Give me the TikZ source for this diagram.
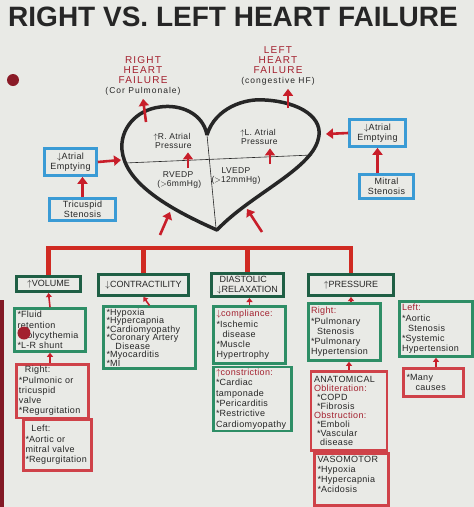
\documentclass[tikz,border=0pt]{standalone}
\usepackage{fontspec}
\setmainfont{Liberation Sans}
\usetikzlibrary{arrows.meta}
\definecolor{paper}{HTML}{E9EAE6}
\definecolor{ink}{HTML}{262626}
\definecolor{hred}{HTML}{C81E2A}
\definecolor{tred}{HTML}{D02A22}
\definecolor{wred}{HTML}{A3202E}
\definecolor{dgreen}{HTML}{1F5F45}
\definecolor{lgreen}{HTML}{2E8E66}
\definecolor{rbox}{HTML}{CF4249}
\definecolor{mblue}{HTML}{3A9BD5}
\newcommand{\bul}{\mbox{*}}
\begin{document}
\begin{tikzpicture}
        [x=1pt,y=-1pt,
        every node/.style={font=\fontsize{9}{10.3}\selectfont\addfontfeatures{LetterSpace=4}, text=ink},
        heading/.style={text=wred, align=center, font=\fontsize{10}{10}\selectfont\addfontfeatures{LetterSpace=12}},
        inheart/.style={align=center, font=\fontsize{8.5}{9.5}\selectfont\addfontfeatures{LetterSpace=4}},
        bluebox/.style={draw=mblue, line width=2.6pt, align=center, inner sep=1pt, font=\fontsize{9}{10}\selectfont\addfontfeatures{LetterSpace=4}},
        catbox/.style={draw=dgreen, line width=3pt, align=left, inner sep=1pt, font=\fontsize{9}{9.5}\selectfont},
        grnbox/.style={draw=lgreen, line width=2.6pt, align=left, inner sep=2pt},
        redbox/.style={draw=rbox, line width=2.6pt, align=left, inner sep=2pt},
        harrow/.style={draw=hred, line width=2.6pt, -{Triangle[width=10pt,length=7pt]}},
        boxarrow/.style={draw=hred, line width=1.6pt, -{Triangle[width=6pt,length=4pt]}},
        tree/.style={draw=tred, line width=4.5pt}]
        \fill[paper] (0,0) rectangle (474,507);
        \useasboundingbox (0,0) rectangle (474,507);
        \fill[wred!80!black] (0,300) rectangle (4,507);
        \fill[wred!85!black] (13,80) circle (6);
        % title
        \node[font=\fontsize{28}{30}\selectfont\bfseries] (title) at (233,17) {RIGHT VS. LEFT HEART FAILURE};
        % heart
        \draw[ink, line width=3.5pt, line join=round]
        (207,135) .. controls (203,113) and (180,104) .. (160,107)
        .. controls (135,110) and (120,130) .. (122,150)
        .. controls (125,180) and (160,205) .. (217,230)
        .. controls (250,195) and (310,170) .. (318,140)
        .. controls (325,118) and (300,102) .. (265,100)
        .. controls (245,98) and (215,108) .. (207,135);
        \draw[ink, line width=0.6pt] (125,163) -- (312,155);
        \draw[ink, line width=0.6pt] (207,135) -- (216,228);
        \node[inheart] (rAP) at (172,141) {$\uparrow$R. Atrial\\ \ Pressure};
        \node[inheart] (lAP) at (258,137) {$\uparrow$L. Atrial\\ \ Pressure};
        \node[inheart] (rvedp) at (178,180) {RVEDP\\ \ ($>$6mmHg)};
        \node[inheart] (lvedp) at (236,176) {LVEDP\\ ($>$12mmHg)};
        \coordinate (rvUp) at (188,168);
        \coordinate (lvUp) at (270,164);
        \draw[harrow] (rvUp) -- (rvUp |- rAP.south);
        \draw[harrow] (lvUp) -- (lvUp |- lAP.south);
        % failures
        \node[heading] (rhf) at (143,76) {RIGHT\\HEART\\FAILURE\\{\color{ink}\fontsize{8.5}{9}\selectfont(Cor Pulmonale)}};
        \node[heading] (lhf) at (278,66) {LEFT\\HEART\\FAILURE\\{\color{ink}\fontsize{8.5}{9}\selectfont(congestive HF)}};
        \coordinate (hRtop) at (146,122);
        \coordinate (hLtop) at (288,108);
        \draw[harrow] (hRtop) -- (rhf.south);
        \draw[harrow] (hLtop) -- (hLtop |- lhf.south);
        % atria
        \node[bluebox, minimum width=52pt, minimum height=27pt] (aeL) at (70.5,162) {$\downarrow$Atrial\\Emptying};
        \node[bluebox, minimum width=66pt, minimum height=22pt] (tricus) at (82.5,209.5) {Tricuspid\\Stenosis};
        \node[bluebox, minimum width=56pt, minimum height=27pt] (aeR) at (377.5,133) {$\downarrow$Atrial\\Emptying};
        \node[bluebox, minimum width=54pt, minimum height=24pt] (mitral) at (386.5,186.5) {Mitral\\Stenosis};
        \coordinate (hLeft) at (121,160);
        \coordinate (hRight) at (326,134);
        \draw[harrow] (aeL.east) -- (hLeft);
        \draw[harrow] (aeR.west) -- (hRight);
        \draw[harrow] (tricus.north) -- (tricus.north |- aeL.south);
        \draw[harrow] (mitral.north -| aeR.south) -- (aeR.south);
        % causes
        \node[catbox, minimum width=64pt, minimum height=15pt] (vol) at (48.5,284) {$\uparrow$VOLUME};
        \node[catbox, minimum width=90pt, minimum height=21pt] (contr) at (143.5,285) {$\downarrow$CONTRACTILITY};
        \node[catbox, minimum width=72pt, minimum height=23pt] (diast) at (247.5,285) {\ DIASTOLIC\\$\downarrow$RELAXATION};
        \node[catbox, minimum width=85pt, minimum height=21pt] (press) at (351,285) {$\uparrow$PRESSURE};
        \coordinate (bar) at (0,248);
        \draw[tree] (vol.north) |- (bar -| press.north) -- (press.north);
        \draw[tree] (contr.north) -- (contr.north |- bar);
        \draw[tree] (diast.north) -- (diast.north |- bar);
        \coordinate (hBotL) at (160,235);
        \coordinate (hBotR) at (262,232);
        \draw[harrow] (hBotL) -- (170,212);
        \draw[harrow] (hBotR) -- (247,209);
        % lists
        \node[grnbox, minimum width=71pt, minimum height=43pt, text width=65pt] (volList) at (50,330)
        {\bul Fluid\\ retention\\ \bul Polycythemia\\ \bul L-R shunt};
        \fill[wred] (24,333) circle (6.5);
        \node[grnbox, minimum width=92pt, minimum height=58pt, text width=86pt,
        font=\fontsize{9}{8.5}\selectfont\addfontfeatures{LetterSpace=4}] (contrList) at (149.5,337.5)
        {\bul Hypoxia\\ \bul Hypercapnia\\ \bul Cardiomyopathy\\ \bul Coronary Artery\\ \ \ \ Disease\\ \bul Myocarditis\\ \bul MI};
        \node[grnbox, minimum width=72pt, minimum height=57pt, text width=66pt] (compl) at (249.5,335)
        {{\color{wred}$\downarrow$compliance:}\\ \bul Ischemic\\ \ \ disease\\ \bul Muscle\\ Hypertrophy};
        \node[grnbox, minimum width=78pt, minimum height=59pt, text width=73pt] (constr) at (252.5,399)
        {{\color{wred}$\uparrow$constriction:}\\ \bul Cardiac\\ tamponade\\ \bul Pericarditis\\ \bul Restrictive\\ Cardiomyopathy};
        \node[grnbox, minimum width=72pt, minimum height=57pt, text width=67pt] (pRight) at (344.5,332)
        {{\color{wred}Right:}\\ \bul Pulmonary\\ \ \ Stenosis\\ \bul Pulmonary\\ Hypertension};
        \node[grnbox, minimum width=73pt, minimum height=55pt, text width=68pt] (pLeft) at (436,329)
        {{\color{wred}Left:}\\ \bul Aortic\\ \ \ Stenosis\\ \bul Systemic\\ Hypertension};
        \node[redbox, minimum width=72pt, minimum height=49pt, text width=67pt] (volR) at (52.5,391)
        {\ \ Right:\\ \bul Pulmonic or\\ tricuspid\\ valve\\ \bul Regurgitation};
        \node[redbox, minimum width=68pt, minimum height=51pt, text width=64pt] (volL) at (57.5,445)
        {\ \ Left:\\ \bul Aortic or\\ mitral valve\\ \bul Regurgitation};
        \node[redbox, minimum width=75pt, minimum height=79pt, text width=70pt, inner sep=3pt,
        font=\fontsize{9}{9}\selectfont\addfontfeatures{LetterSpace=4}] (anat) at (349,411)
        {ANATOMICAL\\ {\color{wred}Obliteration:}\\ \ \bul COPD\\ \ \bul Fibrosis\\ {\color{wred}Obstruction:}\\ \ \bul Emboli\\ \ \bul Vascular\\ \ \ disease};
        \node[redbox, minimum width=74pt, minimum height=52pt, text width=68pt] (vaso) at (351.5,479.5)
        {VASOMOTOR\\ \bul Hypoxia\\ \bul Hypercapnia\\ \bul Acidosis\\ \ };
        \node[redbox, minimum width=60pt, minimum height=28pt, text width=54pt] (many) at (433.5,382.5)
        {\bul Many\\ \ \ \ causes};
        \draw[boxarrow] (volList.north) -- (vol.south);
        \draw[boxarrow] (contrList.north) -- (contr.south);
        \draw[boxarrow] (compl.north) -- (compl.north |- diast.south);
        \draw[boxarrow] (pRight.north -| press.south) -- (press.south);
        \draw[boxarrow] (volR.north -| volList.south) -- (volList.south);
        \draw[boxarrow] (anat.north) -- (anat.north |- pRight.south);
        \draw[boxarrow] (many.north -| pLeft.south) -- (pLeft.south);
    \end{tikzpicture}
\end{document}
